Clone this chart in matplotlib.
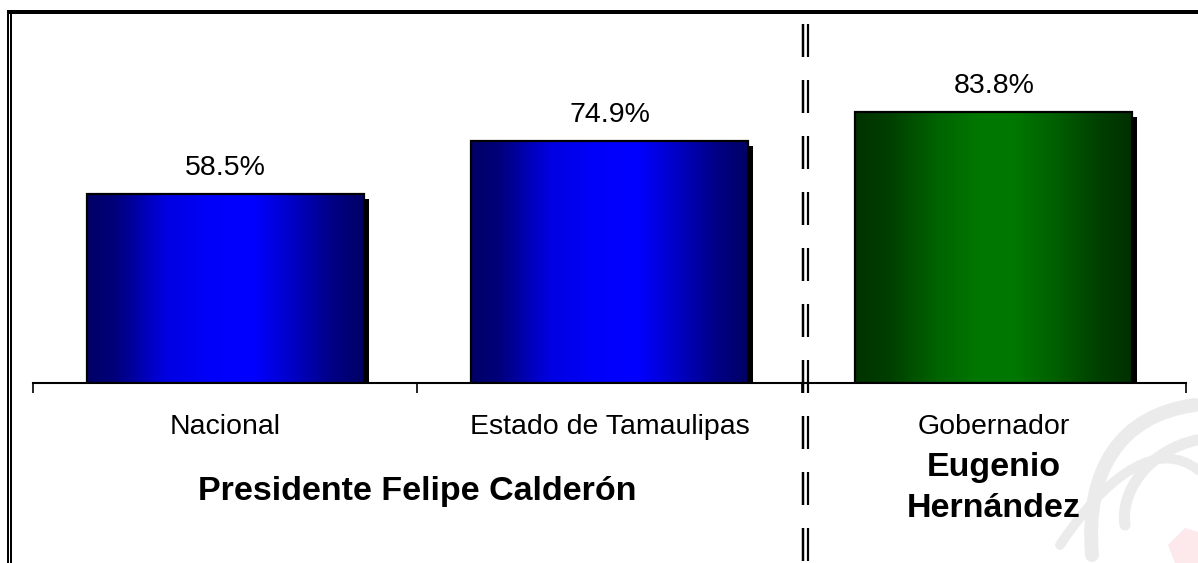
import matplotlib.pyplot as plt
import numpy as np
from matplotlib import patheffects
from matplotlib.colors import LinearSegmentedColormap
from matplotlib.path import Path
from matplotlib.patches import PathPatch, Polygon

plt.rcParams["font.family"] = ["Liberation Sans", "DejaVu Sans"]
plt.rcParams["lines.scale_dashes"] = False

# data
categories = ["Nacional", "Estado de Tamaulipas", "Gobernador"]
values = [58.5, 74.9, 83.8]
value_labels = ["58.5%", "74.9%", "83.8%"]
group_presidente = "Presidente Felipe Calderón"
group_gobernador = ["Eugenio", "Hernández"]

W, H = 1198, 563
fig = plt.figure(figsize=(W / 100, H / 100), dpi=100)

# decoration layer in pixel coordinates (frame, separator, watermark)
deco = fig.add_axes([0, 0, 1, 1], zorder=0)
deco.set_xlim(0, W)
deco.set_ylim(H, 0)
deco.axis("off")

# watermark (faint logo, bottom right)
wm = "#ebebeb"
for verts, lw in [
    ([(1195, 405), (1120, 415), (1085, 470), (1092, 555)], 10),
    ([(1197, 440), (1150, 450), (1120, 490), (1125, 525)], 8),
    ([(1060, 545), (1110, 470), (1160, 440), (1198, 470)], 7),
]:
    p = Path(verts, [Path.MOVETO, Path.CURVE4, Path.CURVE4, Path.CURVE4])
    deco.add_patch(PathPatch(p, fill=False, edgecolor=wm, lw=lw, capstyle="round"))
deco.add_patch(Polygon([(1175, 563), (1168, 545), (1185, 528), (1198, 532), (1198, 563)],
                       closed=True, facecolor="#fde8ec", edgecolor="none"))

# frame
deco.plot([7, W], [12, 12], color="black", lw=4 * 0.72, solid_capstyle="butt")
deco.plot([8, 8], [10, H], color="black", lw=2 * 0.72, solid_capstyle="butt")
deco.plot([11, 11], [14, H], color="black", lw=2 * 0.72, solid_capstyle="butt")

# dashed double separator
dash = (0, (33 * 0.72, 23 * 0.72))
deco.plot([802.5, 802.5], [24, H], color="black", lw=2.5 * 0.72, linestyle=dash, dash_capstyle="butt")
deco.plot([808, 808], [24, H], color="black", lw=2.2 * 0.72, linestyle=dash, dash_capstyle="butt")

# main chart
ax = fig.add_axes([33 / W, 1 - 383 / H, (1186 - 33) / W, 323 / H], zorder=1)
ax.patch.set_alpha(0)

x = np.arange(len(values)) + 0.5
blue = LinearSegmentedColormap.from_list(
    "blue", [(0, "#000066"), (0.1, "#00007a"), (0.28, "#0000e0"), (0.45, "#0000fa"),
             (0.6, "#0000ff"), (0.72, "#0000d0"), (0.88, "#000088"), (1, "#000066")])
green = LinearSegmentedColormap.from_list(
    "green", [(0, "#003300"), (0.12, "#003e00"), (0.3, "#006400"), (0.45, "#007800"),
              (0.58, "#007700"), (0.72, "#006000"), (0.88, "#004000"), (1, "#003000")])
cmaps = [blue, blue, green]

bars = ax.bar(x, values, width=0.72, color="black", edgecolor="none", zorder=2,
              path_effects=[patheffects.SimplePatchShadow(offset=(3.8, -3.6), shadow_rgbFace="black", alpha=1),
                            patheffects.Normal()])

grad = np.linspace(0, 1, 256).reshape(1, -1)
for bar, cmap in zip(bars, cmaps):
    bx, bw, bh = bar.get_x(), bar.get_width(), bar.get_height()
    ax.imshow(grad, cmap=cmap, extent=[bx, bx + bw, 0, bh], aspect="auto",
              interpolation="bilinear", zorder=2.5)

ax.bar(x, values, width=0.72, fill=False, edgecolor="black", linewidth=1.6, zorder=3)

ax.set_xlim(0, 3)
ax.set_ylim(0, 100)
for s in ["top", "left", "right"]:
    ax.spines[s].set_visible(False)
ax.spines["bottom"].set_linewidth(1.5)
ax.set_yticks([])
ax.set_xticks([0, 1, 2, 3])
ax.set_xticklabels([])
ax.tick_params(axis="x", direction="out", length=7.2, width=1.2)

for xi, v, lbl in zip(x, values, value_labels):
    ax.annotate(lbl, (xi, v), xytext=(0, 14), textcoords="offset points",
                ha="center", va="baseline", fontsize=20.5)

tr = ax.get_xaxis_transform()
for xi, cat in zip(x, categories):
    ax.text(xi, -51 / 323, cat, transform=tr, ha="center", va="baseline", fontsize=20.5)

ax.text(1.0, -117 / 323, group_presidente, transform=tr, ha="center", va="baseline",
        fontsize=24.5, fontweight="bold")
ax.text(x[2], -93 / 323, group_gobernador[0], transform=tr, ha="center", va="baseline",
        fontsize=24.5, fontweight="bold")
ax.text(x[2], -134 / 323, group_gobernador[1], transform=tr, ha="center", va="baseline",
        fontsize=24.5, fontweight="bold")

fig.savefig("out.png", dpi=100)
